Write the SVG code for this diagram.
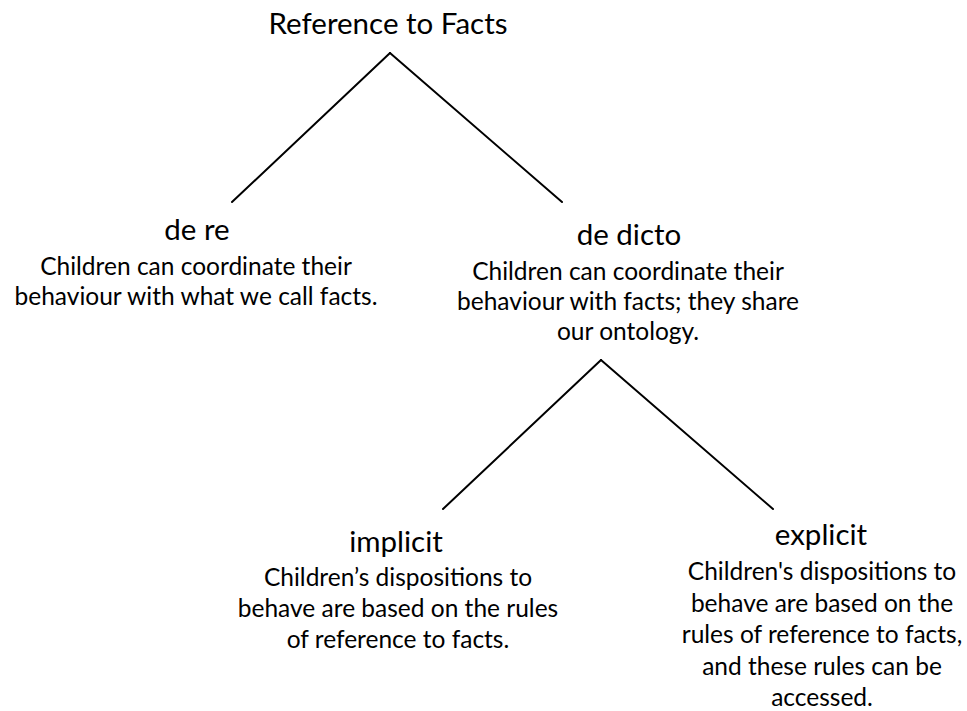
<svg xmlns="http://www.w3.org/2000/svg" width="967" height="711" viewBox="0 0 967 711">
<style>
text{font-family:Lato,"Liberation Sans",sans-serif;fill:#000;text-anchor:middle}
.h{font-size:29.5px}
.b{font-size:24.5px}
.c line{stroke:#000;stroke-width:2;stroke-linecap:round}
</style>
<rect width="967" height="711" fill="#fff"/>
<g class="c" id="connectors">
<line x1="390" y1="53" x2="232" y2="202"/>
<line x1="390" y1="53" x2="562" y2="202"/>
<line x1="601" y1="360" x2="443" y2="509"/>
<line x1="601" y1="360" x2="773" y2="509"/>
</g>
<g id="root"><text class="h" x="388" y="34">Reference to Facts</text></g>
<g id="dere">
<text class="h" x="197" y="240">de re</text>
<text class="b" x="196" y="275">Children can coordinate their</text>
<text class="b" x="196" y="305">behaviour with what we call facts.</text>
</g>
<g id="dedicto">
<text class="h" x="629" y="245">de dicto</text>
<text class="b" x="628" y="280">Children can coordinate their</text>
<text class="b" x="628" y="310">behaviour with facts; they share</text>
<text class="b" x="628" y="340">our ontology.</text>
</g>
<g id="implicit">
<text class="h" x="396" y="552">implicit</text>
<text class="b" x="398" y="586">Children’s dispositions to</text>
<text class="b" x="398" y="617">behave are based on the rules</text>
<text class="b" x="398" y="648">of reference to facts.</text>
</g>
<g id="explicit">
<text class="h" x="821" y="545">explicit</text>
<text class="b" x="822" y="580">Children's dispositions to</text>
<text class="b" x="822" y="611.5">behave are based on the</text>
<text class="b" x="822" y="643">rules of reference to facts,</text>
<text class="b" x="822" y="674.5">and these rules can be</text>
<text class="b" x="822" y="706">accessed.</text>
</g>
</svg>
